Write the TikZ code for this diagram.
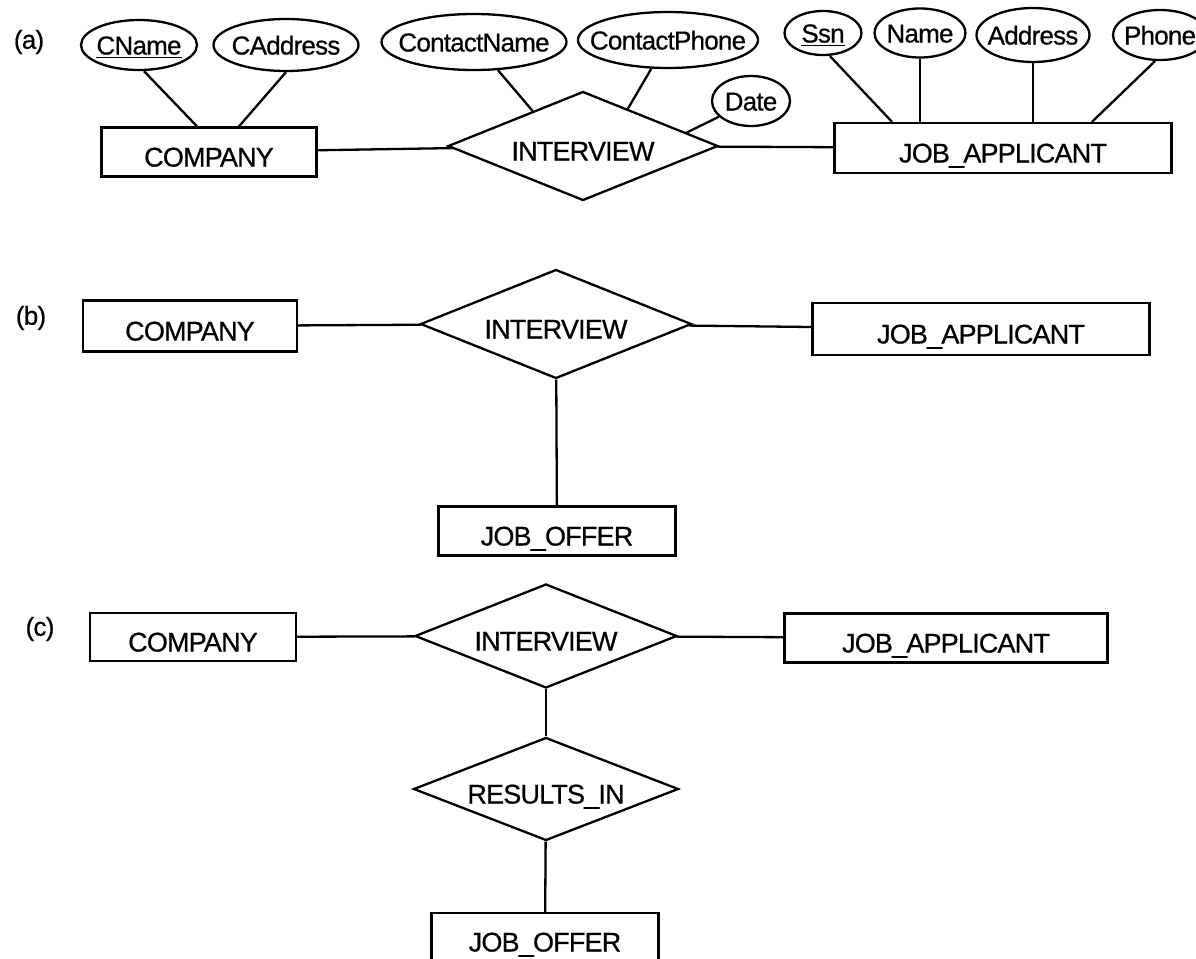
\documentclass[tikz,border=0pt]{standalone}
\usepackage{fontspec}
\setmainfont{Liberation Sans}[LetterSpace=-3,FakeBold=0.6]
\usetikzlibrary{shapes.geometric,calc}
\tikzset{
  entity/.style={draw,rectangle,inner sep=0pt,text height=14.5pt,text depth=0pt,
    font=\fontsize{13.5}{16}\selectfont},
  relship/.style={draw,diamond,aspect=2.5,inner sep=0pt,text height=14.5pt,text depth=0pt,
    font=\fontsize{13.5}{16}\selectfont},
  attrib/.style={draw,ellipse,inner sep=-20pt,text height=9.5pt,text depth=0pt,
    font=\fontsize{13}{15}\selectfont},
  tag/.style={font=\fontsize{13}{15}\selectfont}
}
\begin{document}
\begin{tikzpicture}[x=0.5pt,y=-0.5pt,line width=1.15pt]
   \useasboundingbox (0,0) rectangle (1196,959);

   \node[tag] (la) at (29,42) {(a)};
   \node[tag] (lb) at (31,318) {(b)};
   \node[tag] (lc) at (40,629) {(c)};

   \node[entity,minimum width=107.5pt,minimum height=24.5pt] (coA) at (209,152) {COMPANY};
   \node[relship,minimum width=135pt,minimum height=54.5pt] (intA) at (583,146) {INTERVIEW};
   \node[entity,minimum width=168.5pt,minimum height=25pt] (jaA) at (1003,148) {JOB\_APPLICANT};

   \node[attrib,minimum width=58pt,minimum height=25pt] (cname) at (139,45) {\underline{CName}};
   \node[attrib,minimum width=72.5pt,minimum height=26pt] (caddr) at (286,45) {CAddress};
   \node[attrib,minimum width=92.5pt,minimum height=28pt] (ctname) at (474,42) {ContactName};
   \node[attrib,minimum width=90pt,minimum height=28pt] (ctphone) at (668,40) {ContactPhone};
   \node[attrib,minimum width=39pt,minimum height=25pt] (idate) at (751,101) {Date};
   \node[attrib,minimum width=38.5pt,minimum height=22pt] (ssn) at (823,33) {\underline{Ssn}};
   \node[attrib,minimum width=45.5pt,minimum height=24.5pt] (aname) at (920,33) {Name};
   \node[attrib,minimum width=56.5pt,minimum height=27pt] (addr) at (1033,35) {Address};
   \node[attrib,minimum width=47pt,minimum height=25pt] (phone) at (1160,35) {Phone};

   \draw ([xshift=2.5pt]cname.south) -- ([xshift=-6pt]coA.north);
   \draw (caddr.south) -- ([xshift=15pt]coA.north);
   \draw (ctname) -- ($(intA.west)!0.63!(intA.north)$);
   \draw (ctphone) -- ($(intA.north)!0.33!(intA.east)$);
   \draw (idate) -- ($(intA.north)!0.76!(intA.east)$);
   \draw ([xshift=3.5pt]ssn.south) -- ([xshift=-55.5pt]jaA.north);
   \draw (aname.south) -- (aname.south |- jaA.north);
   \draw (addr.south) -- (addr.south |- jaA.north);
   \draw ([xshift=-2.5pt]phone.south) -- ([xshift=44.5pt]jaA.north);
   \draw (coA) -- (intA);
   \draw (intA) -- (jaA);

   \node[entity,minimum width=107pt,minimum height=25.5pt] (coB) at (190,326) {COMPANY};
   \node[relship,minimum width=135.5pt,minimum height=54.5pt] (intB) at (556,324) {INTERVIEW};
   \node[entity,minimum width=168.5pt,minimum height=26pt] (jaB) at (981,329) {JOB\_APPLICANT};
   \node[entity,minimum width=118.5pt,minimum height=24.5pt] (joB) at (557,531) {JOB\_OFFER};

   \draw (coB) -- (intB);
   \draw (intB) -- (jaB);
   \draw (intB) -- (joB);

   \node[entity,minimum width=103pt,minimum height=24pt] (coC) at (193,637) {COMPANY};
   \node[relship,minimum width=131pt,minimum height=52pt] (intC) at (546,636) {INTERVIEW};
   \node[entity,minimum width=161.5pt,minimum height=24.5pt] (jaC) at (946,638) {JOB\_APPLICANT};
   \node[relship,minimum width=132.5pt,minimum height=51.5pt] (resC) at (546,789) {RESULTS\_IN};
   \node[entity,minimum width=113.5pt,minimum height=24pt] (joC) at (545,937) {JOB\_OFFER};

   \draw (coC) -- (intC);
   \draw (intC) -- (jaC);
   \draw (intC) -- (resC);
   \draw (resC) -- (joC);

\end{tikzpicture}
\end{document}
